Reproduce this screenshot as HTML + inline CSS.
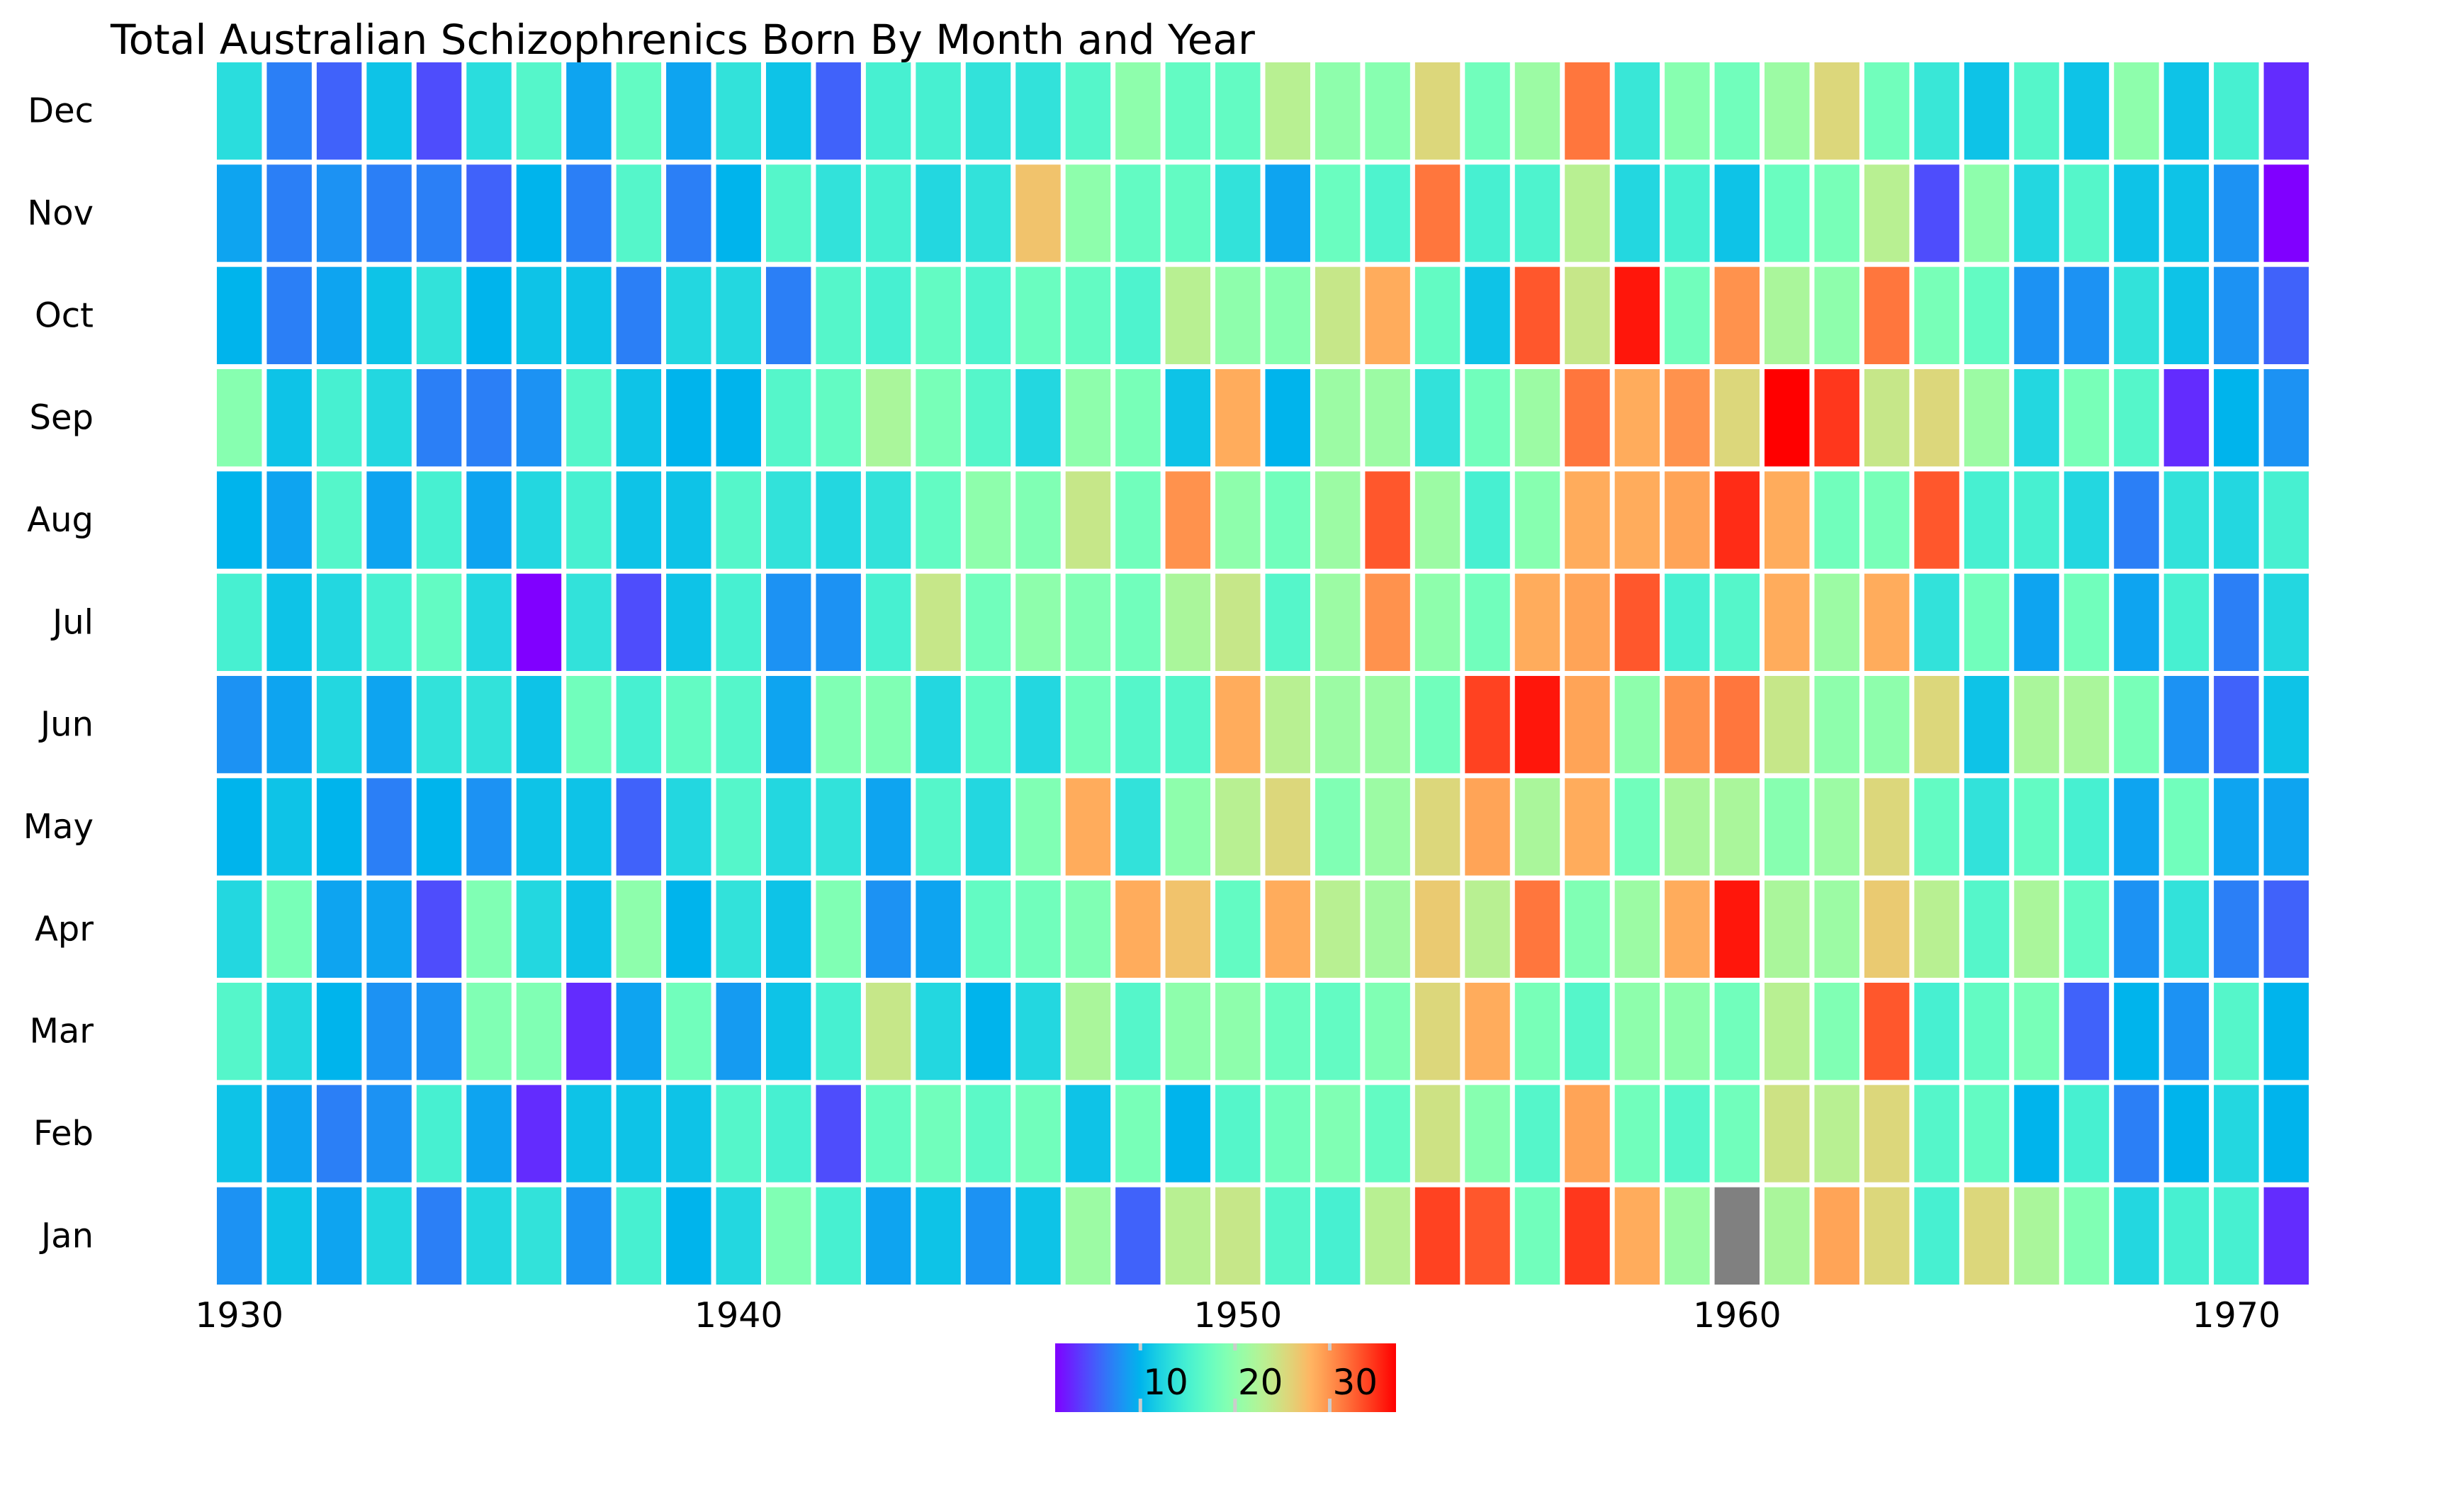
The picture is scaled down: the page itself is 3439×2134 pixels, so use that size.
<!DOCTYPE html>
<html><head><meta charset="utf-8"><style>
html,body{margin:0;padding:0;background:#fff;}
svg{display:block;font-family:"DejaVu Sans","Liberation Sans",sans-serif;}
</style></head><body>
<svg id="chart" width="3439" height="2134" viewBox="0 0 3439 2134" xmlns="http://www.w3.org/2000/svg">
<rect width="3439" height="2134" fill="#fff"/>
<text x="156" y="76" font-size="58" fill="#000">Total Australian Schizophrenics Born By Month and Year</text>
<g id="cells"></g>
<g id="ylabels"></g>
<g id="xlabels"></g>
<defs><linearGradient id="cbgrad" x1="0" x2="1" y1="0" y2="0"></linearGradient></defs>
<g id="colorbar"></g>
</svg>
<script>
const months = ["Dec","Nov","Oct","Sep","Aug","Jul","Jun","May","Apr","Mar","Feb","Jan"];
const startYear = 1930;
const xTickYears = [1930,1940,1950,1960,1970];
const cbTicks = [10,20,30];
const vmin = 1, vmax = 37;
const rowDec = [13,7,5.5,11,4.5,13,16,9,17,9,13.5,11,5.5,15,15,13.5,13.5,16,20,17,17, 23,20,19.5,25.5,18,21,31.5,14,19.5,18,21,25.5,18,14,11,16,11,20,11,15,3];
const rowNov = [9,7,8,7,7,5.5,10,7,16,7,10,16,13.5,15,12.5,13.5,27,20,17,17,13.5, 9,17.5,15.5,31.5,15,15.5,23,12.5,15,11,17.5,18.5,23,4.5,20,12.5,16,11,11,8,1];
const rowOct = [10,7,9,11,13.5,10,11,11,7,12.5,12.5,7,16,15,17,15.5,17.5,17,15.5,23,20, 19.5,24,28.5,17,11,33,24,36,18,30,22,20,31.5,18.5,17,8,8,13.5,11,8,5.5];
const rowSep = [19.5,11,15,12.5,7,7,8,16,11,10,10,16,17,22,18.5,16,12.5,20,18.5,11,28.5, 10,21,21,13.5,18,21,31.5,28.5,30,25.5,37,34.5,24,25.5,21,12.5,18.5,16,3,10,8];
const rowAug = [10,9,16,9,15,9,12.5,15,11,11,16,13.5,12.5,13.5,17,20,19,24,18,30,20, 18,21,33,21,15,19.5,28.5,28.5,29,35,28.5,18,18.5,33,15,15,12.5,7,13.5,12.5,15];
const rowJul = [15,11,12.5,15,17,12.5,1,13.5,4.5,11,15,8,8,15,24,18,20,19,18,22,24, 16,21,30,20,18,28.5,29,33,15,16,28.5,21,28.5,13.5,18,9,18,9,15,7,12.5];
const rowJun = [8,9,12.5,9,13.5,13.5,11,18,15,17,16,9,19,19,12.5,17,12.5,18,16,16,28.5, 23,21,21,18,34,36,29,20,30,31.5,24,20,20,25.5,11,22,22,18.5,8,5.5,11];
const rowMay = [10,11,10,7,10,8,11,11,5.5,12.5,16,12.5,13.5,9,16,12.5,19,28.5,13.5,20,23, 25.5,19,21,25.5,29,22,28.5,18,22,22,19.5,21,25.5,17,13.5,17,15,9,18,9,9];
const rowApr = [12.5,18.5,9,9,4.5,19,12.5,11,20,10,13.5,11,19,8,9,17,18,19,28.5,27,17, 28.5,23,21.5,26.5,23,31.5,19,21,28.5,36,22,21,26.5,23,16,22,17,8,13.5,7,5.5];
const rowMar = [16,12.5,10,8,8,19,19,3,9,18,8.5,11,15,24,12.5,10,12.5,22,16,20,20, 17.5,17,19,25.5,28.5,18.5,16,20,20,18,23,19,33,15,17,18.5,5.5,10,8,16,10];
const rowFeb = [11,9,7,8,15,9,3,11,11,11,16,15,4.5,17,18,16.5,18,11,18.5,10,16, 18,19,17,24.5,19.5,16,29,18,16,18,24.5,23,25.5,16,17,10,15,7,10,12.5,10];
const rowJan = [8,11,9,12.5,7,12.5,13.5,8,15,10,12.5,19,15,9,11,8,11,21,5.5,23,24, 16,15,23,34,33,18,34.5,28.5,21,null,22,29,25.5,15,25.5,22,19,12.5,15,15,3];
const rows = [rowDec,rowNov,rowOct,rowSep,rowAug,rowJul,rowJun,rowMay,rowApr,rowMar,rowFeb,rowJan];

const NS = "http://www.w3.org/2000/svg";
const plotLeft = 302.5, plotRight = 3261.5, plotTop = 84.5, plotBottom = 1816.5, gap = 7;
const nCols = rowDec.length;
const cw = (plotRight-plotLeft)/nCols, rh = (plotBottom-plotTop)/months.length;
function xPos(i){return plotLeft + i*cw;}
function yPos(r){return plotTop + r*rh;}
function rainbow(v){
  let t = (v - vmin)/(vmax - vmin); t = Math.max(0, Math.min(1, t));
  const r = Math.min(1, Math.abs(2*t - 0.5));
  const g = Math.sin(Math.PI*t);
  const b = Math.cos(Math.PI*t/2);
  return "rgb(" + Math.round(r*255) + "," + Math.round(g*255) + "," + Math.round(b*255) + ")";
}
function el(tag, attrs){const e = document.createElementNS(NS, tag); for (const k in attrs) e.setAttribute(k, attrs[k]); return e;}

const cells = document.getElementById("cells");
rows.forEach((row, r) => {
  row.forEach((v, i) => {
    const rect = el("rect", {x: xPos(i)+gap/2, y: yPos(r)+gap/2, width: cw-gap, height: rh-gap,
      fill: v === null ? "#808080" : rainbow(v)});
    
    
    cells.appendChild(rect);
  });
});

const yl = document.getElementById("ylabels");
months.forEach((m, r) => {
  const t = el("text", {x: 132, y: yPos(r)+rh/2, "font-size": 48, "text-anchor": "end", "dominant-baseline": "central", fill: "#000"});
  t.textContent = m;
  
  
  yl.appendChild(t);
});

const xl = document.getElementById("xlabels");
xTickYears.forEach(yr => {
  const i = yr - startYear;
  const t = el("text", {x: xPos(i)+cw/2, y: 1873, "font-size": 49, "text-anchor": "middle", fill: "#000"});
  t.textContent = String(yr);
  
  
  xl.appendChild(t);
});

const cbL = 1489, cbR = 1970, cbT = 1896, cbB = 1993;
const grad = document.getElementById("cbgrad");
for (let k = 0; k <= 40; k++) {
  const v = vmin + (vmax - vmin)*k/40;
  grad.appendChild(el("stop", {offset: (k/40), "stop-color": rainbow(v)}));
}
const cb = document.getElementById("colorbar");
const cbRect = el("rect", {x: cbL, y: cbT, width: cbR-cbL, height: cbB-cbT, fill: "url(#cbgrad)"});


cb.appendChild(cbRect);
function cbX(v){return cbL + (v - vmin)/(vmax - vmin)*(cbR - cbL);}
cbTicks.forEach(v => {
  const x = cbX(v);
  const t1 = el("rect", {x: x-2.5, y: cbT, width: 5, height: 10, fill: "#cccccc"});
  
  
  cb.appendChild(t1);
  const t2 = el("rect", {x: x-2.5, y: cbB-19, width: 5, height: 19, fill: "#cccccc"});
  
  
  cb.appendChild(t2);
  const lab = el("text", {x: x+4, y: 1968, "font-size": 50, fill: "#000"});
  lab.textContent = String(v);
  
  
  cb.appendChild(lab);
});
</script>
</body></html>
